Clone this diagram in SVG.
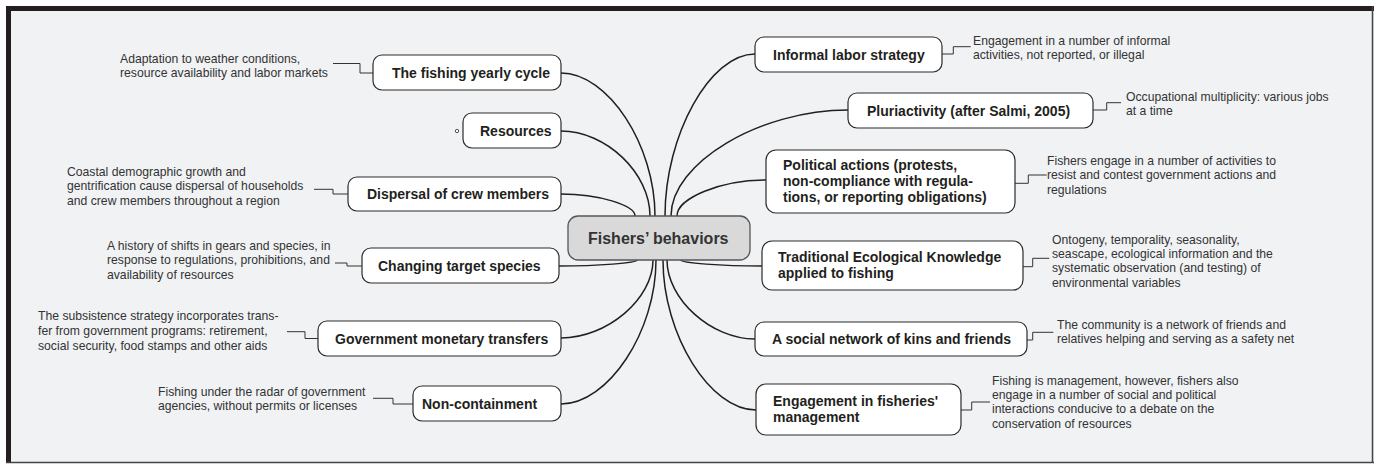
<svg xmlns="http://www.w3.org/2000/svg" width="1374" height="464" viewBox="0 0 1374 464">
<style>
.node{fill:#ffffff;stroke:#2b2b2b;stroke-width:1.2}
.center{fill:#d9d9d9;stroke:#555;stroke-width:1.3}
.nt{font-family:"Liberation Sans",Arial,sans-serif;font-weight:bold;font-size:14px;fill:#231f20}
.ct{font-family:"Liberation Sans",Arial,sans-serif;font-weight:bold;font-size:16px;fill:#333}
.note{font-family:"Liberation Sans",Arial,sans-serif;font-size:12.2px;fill:#333}
.curve{fill:none;stroke:#231f20;stroke-width:1.5}
.elbow{fill:none;stroke:#333;stroke-width:1}
</style>
<rect x="0" y="0" width="1374" height="464" fill="#ffffff"/>
<rect x="6" y="6" width="1368" height="457" fill="#f1f2f4"/>
<rect x="6" y="6" width="1368" height="5" fill="#231f20"/>
<rect x="6" y="6" width="5" height="457" fill="#231f20"/>
<line x1="6" y1="462.5" x2="1374" y2="462.5" stroke="#444" stroke-width="1.5"/>
<line x1="1372.5" y1="6" x2="1372.5" y2="463" stroke="#444" stroke-width="1.5"/>

<g id="connectors">
<path class="curve" d="M561,73 C608,73 655,145 655,216"/>
<path class="curve" d="M561,131 C606,131 650,173 650,216"/>
<path class="curve" d="M561,194 C598,194 635,205 635,216"/>
<path class="curve" d="M559,266 C598,266 637,263 637,260"/>
<path class="curve" d="M561,338 C607,338 653,299 653,260"/>
<path class="curve" d="M561,404 C608,404 656,332 656,260"/>
<path class="curve" d="M755,54 C710,54 665,135 665,216"/>
<path class="curve" d="M848,110 C760,110 671,163 671,216"/>
<path class="curve" d="M766,180 C721,180 677,198 677,216"/>
<path class="curve" d="M762,266 C721,266 681,263 681,260"/>
<path class="curve" d="M755,339 C711,339 667,299 667,260"/>
<path class="curve" d="M756,410 C710,410 663,335 663,260"/>
<path class="elbow" d="M333,63.5 H360 V73 H373"/>
<path class="elbow" d="M314,189.3 H333 V194 H348"/>
<path class="elbow" d="M335,263 H347 V266 H362"/>
<path class="elbow" d="M287,331.7 H305 V338.5 H318"/>
<path class="elbow" d="M373,398.3 H393 V404 H413"/>
<path class="elbow" d="M942,54 H953.3 V46.7 H970.7"/>
<path class="elbow" d="M1093,110 H1106.7 V102.7 H1121"/>
<path class="elbow" d="M1015,183.3 H1028.3 V175 H1046.7"/>
<path class="elbow" d="M1023,266.7 H1032.7 V258.3 H1049.3"/>
<path class="elbow" d="M1027,340 H1032.7 V332.3 H1053.3"/>
<path class="elbow" d="M961,410 H971.7 V402 H990"/>
</g>

<g id="center">
<rect class="center" x="568" y="216" width="182" height="44" rx="10"/>
<text class="ct" x="588" y="244">Fishers’ behaviors</text>
</g>

<g id="yearly">
<rect class="node" x="373" y="55" width="188" height="35" rx="9"/>
<text class="nt" x="392" y="78">The fishing yearly cycle</text>
<text class="note" x="120" y="63"><tspan x="120">Adaptation to weather conditions,</tspan><tspan x="120" dy="14.4">resource availability and labor markets</tspan></text>
</g>

<g id="resources">
<rect class="node" x="463" y="113" width="98" height="35" rx="9"/>
<text class="nt" x="480" y="136">Resources</text>
<circle cx="457" cy="131" r="1.7" fill="#fff" stroke="#555" stroke-width="1"/>
</g>

<g id="dispersal">
<rect class="node" x="348" y="177" width="213" height="34" rx="9"/>
<text class="nt" x="367" y="199">Dispersal of crew members</text>
<text class="note" x="67" y="176"><tspan x="67">Coastal demographic growth and</tspan><tspan x="67" dy="14.4">gentrification cause dispersal of households</tspan><tspan x="67" dy="14.4">and crew members throughout a region</tspan></text>
</g>

<g id="changing">
<rect class="node" x="362" y="248" width="197" height="35" rx="9"/>
<text class="nt" x="378" y="270.5">Changing target species</text>
<text class="note" x="107" y="249.5"><tspan x="107">A history of shifts in gears and species, in</tspan><tspan x="107" dy="14.5">response to regulations, prohibitions, and</tspan><tspan x="107" dy="14.5">availability of resources</tspan></text>
</g>

<g id="government">
<rect class="node" x="318" y="321" width="243" height="35" rx="9"/>
<text class="nt" x="335" y="343.5">Government monetary transfers</text>
<text class="note" x="38" y="320.3"><tspan x="38">The subsistence strategy incorporates trans-</tspan><tspan x="38" dy="14.6">fer from government programs: retirement,</tspan><tspan x="38" dy="14.6">social security, food stamps and other aids</tspan></text>
</g>

<g id="noncontainment">
<rect class="node" x="413" y="386" width="148" height="35" rx="9"/>
<text class="nt" x="422" y="408.5">Non-containment</text>
<text class="note" x="158" y="396"><tspan x="158">Fishing under the radar of government</tspan><tspan x="158" dy="14.4">agencies, without permits or licenses</tspan></text>
</g>

<g id="informal">
<rect class="node" x="755" y="37" width="187" height="35" rx="9"/>
<text class="nt" x="773" y="59.5">Informal labor strategy</text>
<text class="note" x="973" y="44.6"><tspan x="973">Engagement in a number of informal</tspan><tspan x="973" dy="14.6">activities, not reported, or illegal</tspan></text>
</g>

<g id="pluriactivity">
<rect class="node" x="848" y="93" width="245" height="35" rx="9"/>
<text class="nt" x="867" y="115.5">Pluriactivity (after Salmi, 2005)</text>
<text class="note" x="1126" y="101"><tspan x="1126">Occupational multiplicity: various jobs</tspan><tspan x="1126" dy="14.4">at a time</tspan></text>
</g>

<g id="political">
<rect class="node" x="766" y="150" width="249" height="63" rx="10"/>
<text class="nt" x="783" y="170"><tspan x="783">Political actions (protests,</tspan><tspan x="783" dy="16">non-compliance with regula-</tspan><tspan x="783" dy="16">tions, or reporting obligations)</tspan></text>
<text class="note" x="1047" y="164.6"><tspan x="1047">Fishers engage in a number of activities to</tspan><tspan x="1047" dy="14.5">resist and contest government actions and</tspan><tspan x="1047" dy="14.5">regulations</tspan></text>
</g>

<g id="tek">
<rect class="node" x="762" y="241" width="261" height="49" rx="10"/>
<text class="nt" x="778" y="262"><tspan x="778">Traditional Ecological Knowledge</tspan><tspan x="778" dy="16">applied to fishing</tspan></text>
<text class="note" x="1052" y="243.6"><tspan x="1052">Ontogeny, temporality, seasonality,</tspan><tspan x="1052" dy="14.3">seascape, ecological information and the</tspan><tspan x="1052" dy="14.3">systematic observation (and testing) of</tspan><tspan x="1052" dy="14.3">environmental variables</tspan></text>
</g>

<g id="social">
<rect class="node" x="755" y="322" width="272" height="34" rx="9"/>
<text class="nt" x="772" y="344">A social network of kins and friends</text>
<text class="note" x="1057" y="329.3"><tspan x="1057">The community is a network of friends and</tspan><tspan x="1057" dy="13.7">relatives helping and serving as a safety net</tspan></text>
</g>

<g id="engagement">
<rect class="node" x="756" y="384" width="205" height="51" rx="10"/>
<text class="nt" x="773" y="406"><tspan x="773">Engagement in fisheries'</tspan><tspan x="773" dy="16">management</tspan></text>
<text class="note" x="992" y="384.6"><tspan x="992">Fishing is management, however, fishers also</tspan><tspan x="992" dy="14.3">engage in a number of social and political</tspan><tspan x="992" dy="14.3">interactions conducive to a debate on the</tspan><tspan x="992" dy="14.3">conservation of resources</tspan></text>
</g>
</svg>
